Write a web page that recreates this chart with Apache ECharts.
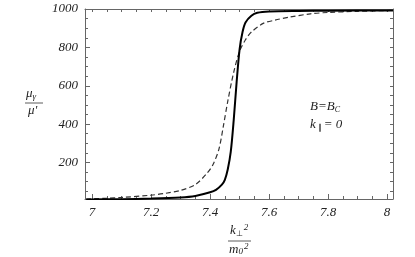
<!DOCTYPE html>
<html><head><meta charset="utf-8">
<script src="https://cdn.jsdelivr.net/npm/echarts@6/dist/echarts.min.js"></script>
<style>html,body{margin:0;padding:0;background:#fff}#c{width:415px;height:257px}</style>
</head><body><div id="c"></div>
<script>
// Data
var solidX = [6.98, 7.1, 7.2, 7.3, 7.35, 7.4, 7.42, 7.44, 7.45, 7.46, 7.47, 7.48, 7.49, 7.5, 7.51, 7.52, 7.54, 7.56, 7.6, 7.7, 7.8, 8.0, 8.02];
var solidY = [8, 9, 12, 18, 26, 45, 58, 85, 110, 165, 255, 420, 620, 790, 880, 930, 965, 980, 987, 990, 991, 992, 992];
var dashX = [6.98, 7.05, 7.1, 7.2, 7.25, 7.3, 7.35, 7.39, 7.41, 7.43, 7.445, 7.46, 7.48, 7.5, 7.52, 7.54, 7.58, 7.62, 7.67, 7.74, 7.8, 7.9, 8.0, 8.02];
var dashY = [10, 14, 18, 30, 40, 55, 85, 145, 190, 270, 390, 520, 670, 780, 840, 880, 925, 942, 958, 975, 982, 988, 992, 993];
var xTicks = [7, 7.2, 7.4, 7.6, 7.8, 8];
var yTicks = [200, 400, 600, 800, 1000];

var xMinor = [], yMinor = [];
for (var i = 0; i <= 20; i++) { var v = +(7 + i * 0.05).toFixed(2); if (xTicks.indexOf(v) < 0) xMinor.push(v); }
for (var j = 1; j <= 19; j++) { var w = j * 50; if (yTicks.indexOf(w) < 0) yMinor.push(w); }

function pairs(xs, ys) { return xs.map(function (x, k) { return [x, ys[k]]; }); }

var frameColor = '#666';
var labelFont = { fontFamily: 'Liberation Serif', fontStyle: 'italic', fontSize: 13, color: '#222' };
var grid = { left: 85, top: 9, width: 308, height: 190 };
var XMIN = 6.976, XMAX = 8.02, YMIN = 10, YMAX = 1000;

function xAx(pos, showLabel, ticks, len, showLine) {
  return {
    type: 'value', position: pos, min: XMIN, max: XMAX,
    axisLine: { show: showLine, onZero: false, lineStyle: { color: frameColor, width: 1 } },
    axisTick: { show: true, inside: true, length: len, customValues: ticks, lineStyle: { color: frameColor } },
    axisLabel: Object.assign({ show: showLabel, margin: 7, customValues: xTicks, formatter: function (v) { return String(+(+v).toFixed(1)); } }, labelFont),
    splitLine: { show: false }
  };
}
function yAx(pos, showLabel, ticks, len, showLine) {
  return {
    type: 'value', position: pos, min: YMIN, max: YMAX,
    axisLine: { show: showLine, onZero: false, lineStyle: { color: frameColor, width: 1 } },
    axisTick: { show: true, inside: true, length: len, customValues: ticks, lineStyle: { color: frameColor } },
    axisLabel: Object.assign({ show: showLabel, margin: 7, customValues: yTicks, formatter: function (v) { return String(Math.round(v)); } }, labelFont),
    splitLine: { show: false }
  };
}

var chart = echarts.init(document.getElementById('c'), null, { renderer: 'canvas' });
chart.setOption({
  animation: false,
  backgroundColor: '#fff',
  grid: grid,
  xAxis: [
    xAx('bottom', true, xTicks, 5, true),
    xAx('bottom', false, xMinor, 3, false),
    xAx('top', false, xTicks.concat(xMinor), 3, true)
  ],
  yAxis: [
    yAx('left', true, yTicks, 5, true),
    yAx('left', false, yMinor, 3, false),
    yAx('right', false, yTicks.concat(yMinor), 3, true)
  ],
  series: [
    { type: 'line', xAxisIndex: 0, yAxisIndex: 0, data: pairs(dashX, dashY), smooth: 0.3, showSymbol: false,
      lineStyle: { color: '#333', width: 1.2, type: [5, 3] } },
    { type: 'line', xAxisIndex: 0, yAxisIndex: 0, data: pairs(solidX, solidY), smooth: 0.3, showSymbol: false,
      lineStyle: { color: '#000', width: 2 } }
  ],
  graphic: [
    // y-axis title: mu_gamma / mu'
    { type: 'text', left: 26, top: 87, style: { text: '{a|μ}{s|γ}', rich: { a: { fontFamily: 'Liberation Serif', fontStyle: 'italic', fontSize: 13, fill: '#222' }, s: { fontFamily: 'Liberation Serif', fontStyle: 'italic', fontSize: 9, fill: '#222', padding: [6, 0, 0, 0] } } } },
    { type: 'line', shape: { x1: 25, y1: 103, x2: 43, y2: 103 }, style: { stroke: '#333', lineWidth: 0.8 } },
    { type: 'text', left: 28, top: 104, style: { text: "μ'", font: 'italic 13px "Liberation Serif"', fill: '#222' } },
    // x-axis title: k_perp^2 / m0^2
    { type: 'text', left: 230, top: 223, style: { text: '{a|k}{s|⊥}{p|2}', rich: { a: { fontFamily: 'Liberation Serif', fontStyle: 'italic', fontSize: 13, fill: '#222' }, s: { fontFamily: 'Liberation Serif', fontSize: 8, fill: '#222', padding: [6, 0, 0, 0] }, p: { fontFamily: 'Liberation Serif', fontStyle: 'italic', fontSize: 9, fill: '#222', padding: [0, 0, 6, 1] } } } },
    { type: 'line', shape: { x1: 228, y1: 241, x2: 251, y2: 241 }, style: { stroke: '#333', lineWidth: 0.8 } },
    { type: 'text', left: 229, top: 242, style: { text: '{a|m}{s|0}{p|2}', rich: { a: { fontFamily: 'Liberation Serif', fontStyle: 'italic', fontSize: 13, fill: '#222' }, s: { fontFamily: 'Liberation Serif', fontStyle: 'italic', fontSize: 9, fill: '#222', padding: [5, 0, 0, 0] }, p: { fontFamily: 'Liberation Serif', fontStyle: 'italic', fontSize: 9, fill: '#222', padding: [0, 0, 6, 1] } } } },
    // annotation
    { type: 'text', left: 310, top: 100, style: { text: '{a|B=B}{s|C}', rich: { a: { fontFamily: 'Liberation Serif', fontStyle: 'italic', fontSize: 13, fill: '#222' }, s: { fontFamily: 'Liberation Serif', fontStyle: 'italic', fontSize: 8, fill: '#222', padding: [6, 0, 0, 0] } } } },
    { type: 'text', left: 310, top: 118, style: { text: '{a|k}{s| ∥ }{a|= 0}', rich: { a: { fontFamily: 'Liberation Serif', fontStyle: 'italic', fontSize: 13, fill: '#222' }, s: { fontFamily: 'Liberation Serif', fontSize: 8, fill: '#222', padding: [6, 0, 0, 0] } } } }
  ]
});
</script></body></html>
